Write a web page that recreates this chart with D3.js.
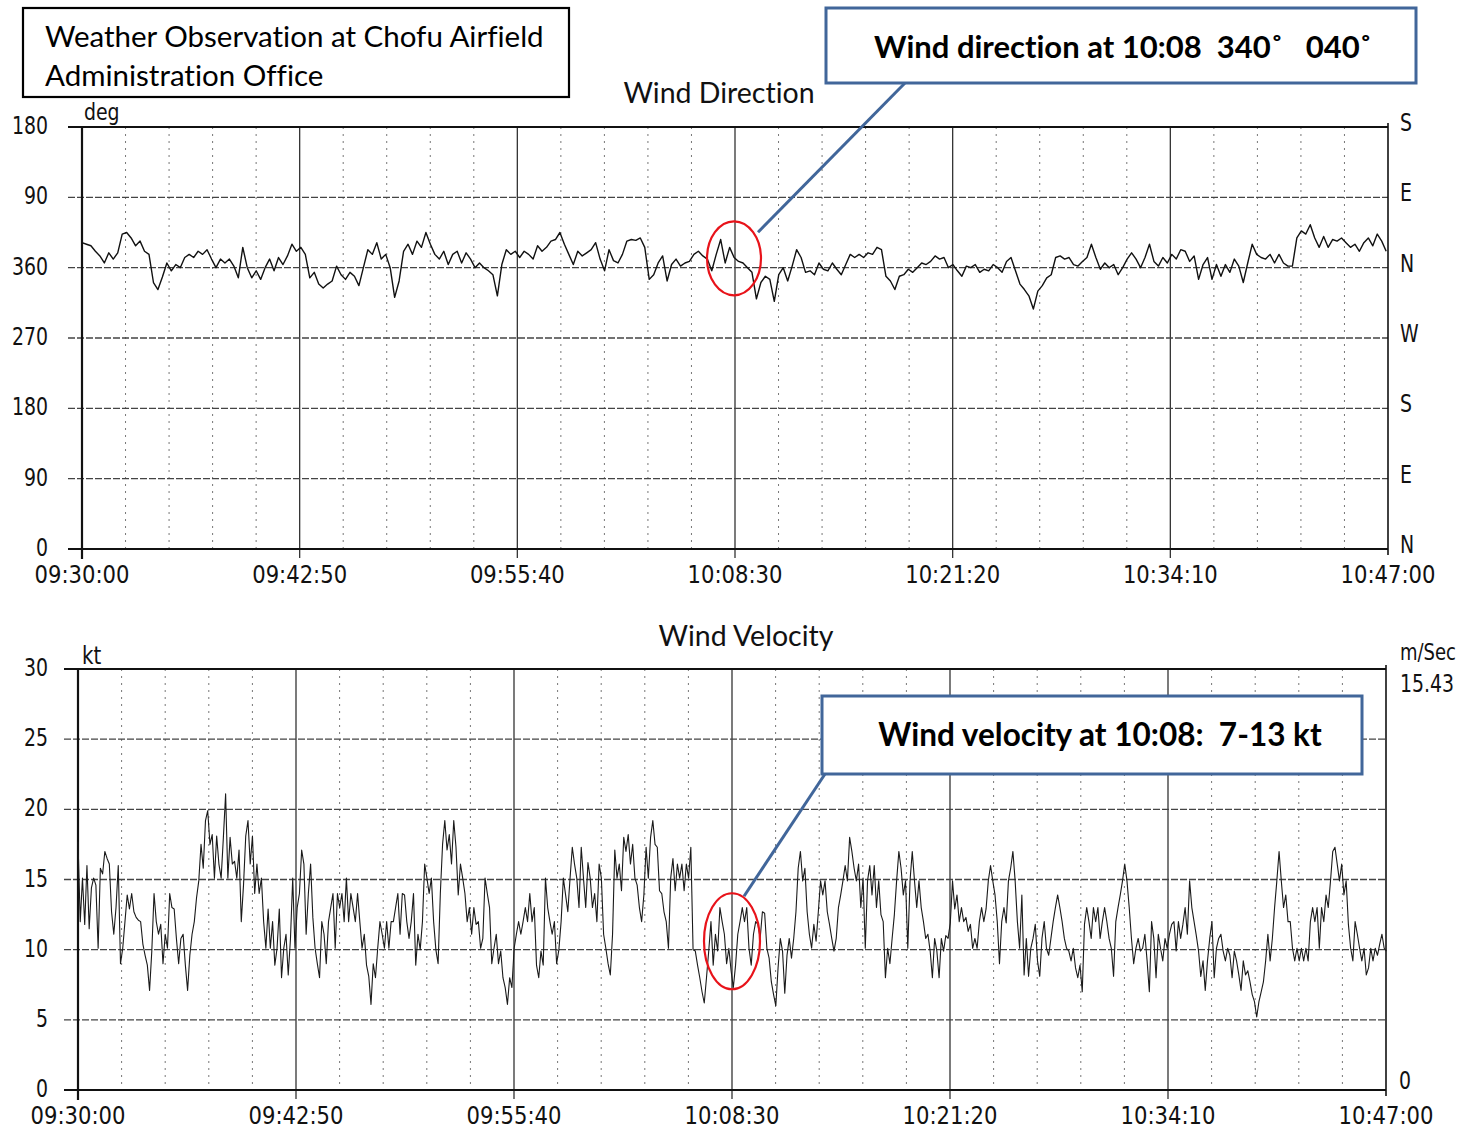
<!DOCTYPE html>
<html><head><meta charset="utf-8">
<script src="https://cdn.jsdelivr.net/npm/d3@7/dist/d3.min.js"></script>
<style>body{margin:0;background:#fff} text{font-variant-ligatures:none}</style>
</head><body>
<svg id="c" width="1470" height="1130"></svg>
<script>
// ---------- data ----------
const timeLabels = ["09:30:00","09:42:50","09:55:40","10:08:30","10:21:20","10:34:10","10:47:00"];
const timeLabelSec = [0,770,1540,2310,3080,3850,4620];
const totalSec = 4620;
const minorGridSec = 154;

const dirTicks = [0,90,180,270,360,450,540];
const dirTickLabels = ["0","90","180","270","360","90","180"];
const dirCompass = ["N","E","S","W","N","E","S"];

const velTicks = [0,5,10,15,20,25,30];
const velTickLabels = ["0","5","10","15","20","25","30"];

// wind direction, unwrapped degrees (360 = N, 390 = 030°, 330 = 330°), one sample every 15.8 s from 09:30:00
const dirSampleSec = 15.8;
const dirValues = [
392,390,388,381,375,366,379,371,379,403,
405,398,388,394,381,377,341,332,348,366,
356,364,360,373,377,373,381,377,383,371,
360,371,366,371,362,347,386,360,347,356,
345,360,371,356,373,364,375,390,381,386,
377,347,354,339,334,339,343,362,351,345,
354,349,337,360,383,377,392,371,377,360,
322,343,381,390,377,394,386,405,390,377,
371,381,364,377,381,366,379,371,360,366,
360,356,351,324,364,383,377,381,373,381,
377,371,388,381,386,394,396,405,390,377,
364,381,375,379,383,392,371,356,383,369,
366,377,394,396,395,398,386,345,351,366,
375,343,364,371,362,366,368,377,381,375,
371,356,377,396,366,386,373,368,366,360,
354,320,
341,349,345,317,351,360,343,362,383,373,
354,356,351,366,358,356,366,358,351,364,
377,373,377,373,379,377,386,383,349,343,
332,349,351,358,354,360,366,364,368,375,
371,373,360,364,356,349,362,360,364,354,
358,356,364,360,354,368,373,356,339,332,
324,307,330,337,347,351,373,375,371,373,
364,362,368,373,390,373,358,366,360,364,
351,360,371,379,371,360,373,390,368,362,
373,366,377,371,383,381,368,375,345,364,
373,345,364,349,364,354,371,362,341,366,
390,377,373,371,377,366,377,366,362,362,
398,407,403,415,398,386,400,386,396,394,
398,392,386,390,381,392,398,388,403,394,
381];

// wind velocity in kt, one sample every 7.9 s from 09:30:00
const velSampleSec = 7.9;
const velValues = [
17.7,12.0,15.1,11.8,16.0,11.5,14.4,15.1,14.6,10.1,
15.8,15.4,17.0,16.5,16.1,12.7,11.1,13.0,16.0,9.0,
10.1,12.0,13.9,12.9,14.0,12.7,12.3,12.1,12.0,10.4,
9.6,8.9,7.1,9.9,14.0,12.0,11.1,11.8,9.0,11.1,
10.1,14.0,13.0,12.9,10.8,9.0,10.8,11.1,8.9,7.1,
9.6,11.1,12.0,13.7,14.9,17.5,15.8,19.2,19.9,17.5,
18.2,15.1,18.1,16.1,15.1,18.0,21.1,15.1,18.0,16.1,
16.3,15.1,17.1,12.0,14.6,18.1,19.2,16.1,18.1,14.0,
16.1,14.0,15.1,12.0,10.1,12.9,10.1,12.0,8.9,10.1,
12.9,8.0,10.1,11.1,8.2,10.8,15.1,10.1,13.0,14.0,
17.1,16.1,11.1,14.0,16.1,12.3,10.1,9.0,8.0,12.0,
11.1,9.0,12.0,13.0,14.0,10.1,14.0,13.0,14.0,12.0,
15.1,12.0,14.0,13.0,12.0,14.0,12.0,10.1,11.1,8.9,
8.1,6.1,9.0,8.0,10.1,12.0,11.1,10.1,12.0,10.1,
12.0,12.0,13.0,14.0,11.1,14.0,13.9,12.0,10.8,12.0,
14.0,8.9,11.1,10.0,12.0,16.1,15.1,14.0,15.1,12.0,
10.0,9.0,14.0,17.5,19.2,17.1,18.2,16.1,19.2,17.3,
13.9,16.1,15.1,14.0,12.0,13.0,11.1,13.0,11.8,12.0,
10.1,10.8,15.1,14.0,13.0,9.0,10.1,11.1,9.0,9.9,
8.0,7.3,6.1,8.0,7.3,10.1,11.1,12.0,11.1,12.0,
13.0,12.0,14.0,12.0,13.0,8.9,8.0,9.9,8.9,15.1,
13.0,12.0,11.1,12.0,9.0,10.0,12.0,15.1,13.9,12.7,
15.1,17.3,16.1,15.1,13.0,17.3,15.1,13.0,16.2,15.1,
13.0,14.0,12.0,16.1,15.1,11.1,10.1,9.0,8.2,11.1,
17.1,15.1,16.1,14.2,18.0,17.0,18.2,16.1,17.5,15.1,
14.6,13.0,12.0,13.9,17.3,15.1,18.0,19.2,17.5,17.3,
14.2,14.0,12.7,12.0,10.1,15.1,16.5,14.2,16.1,15.1,
16.1,14.2,16.1,15.1,17.3,10.0,9.9,8.9,8.0,7.0,
6.2,8.0,9.9,12.0,8.9,11.1,9.9,13.0,12.0,11.1,
9.0,10.1,8.5,7.3,8.9,11.1,12.0,13.0,12.0,13.0,
10.1,8.9,11.1,12.0,11.8,
10.8,12.7,12.6,10.1,9.4,7.7,6.8,6.0,8.7,10.8,
9.9,6.9,9.6,10.8,9.4,10.8,12.7,15.8,17.0,14.9,
15.8,12.7,11.1,10.1,11.8,10.6,12.7,14.9,13.9,14.9,
12.7,11.8,10.8,9.9,10.8,13.0,13.9,14.9,16.0,14.9,
18.0,17.0,15.8,14.9,16.1,13.0,15.1,10.1,14.9,16.0,
13.9,16.0,13.0,14.9,12.5,12.0,8.0,10.1,9.0,10.8,
12.5,14.9,17.0,15.8,13.9,14.9,10.1,14.9,17.0,14.9,
13.0,14.9,13.0,12.0,10.8,11.1,9.9,8.0,10.8,9.9,
8.0,10.8,9.9,11.0,10.8,11.9,14.9,12.9,13.9,12.0,
13.0,12.0,12.3,11.3,11.8,10.1,10.8,10.1,12.0,13.0,
12.0,12.9,14.9,16.0,14.9,13.9,12.0,9.0,12.0,13.0,
11.9,14.9,15.8,17.0,14.9,12.0,10.1,13.9,8.2,10.8,
8.1,10.1,10.8,11.8,9.2,8.1,10.8,12.0,10.1,9.6,
10.8,12.0,13.0,13.9,13.0,12.0,10.8,10.1,9.9,9.2,
10.1,8.7,8.0,8.9,7.0,11.8,13.0,12.0,10.8,13.0,
12.0,13.0,10.8,12.0,13.0,12.0,10.8,10.1,8.1,12.0,
13.0,13.9,14.9,16.1,14.9,13.0,10.8,9.0,10.1,10.8,
9.9,10.1,11.1,9.2,7.0,12.0,10.8,8.0,11.1,10.1,
9.2,10.8,10.1,11.1,11.8,12.0,9.9,12.0,10.8,11.8,
13.0,11.1,14.9,13.0,12.0,11.0,9.9,8.1,9.2,7.1,
9.2,10.8,12.0,8.0,10.1,10.8,11.1,9.9,9.2,10.1,
9.6,8.0,9.9,9.2,8.2,7.1,9.2,8.2,8.5,7.7,
6.8,6.3,5.2,6.3,7.0,7.7,9.2,11.1,9.2,10.8,
13.0,14.9,17.0,14.9,13.0,13.9,12.0,12.0,10.1,9.2,
10.1,9.2,10.1,9.2,10.1,9.2,12.0,13.0,12.0,13.0,
10.1,13.0,12.0,13.9,13.0,14.9,17.0,17.3,16.1,14.9,
16.1,13.9,14.9,11.8,10.1,9.2,12.0,11.1,10.1,9.2,
10.1,8.2,8.7,10.1,9.2,10.1,9.6,10.4,11.1,10.1,
9.9];

const titleLines = ["Weather Observation at Chofu Airfield","Administration Office"];
const dirTitle = "Wind Direction";
const velTitle = "Wind Velocity";
const dirNote = "Wind direction at 10:08  340\u02DA   040\u02DA";
const velNote = "Wind velocity at 10:08:  7-13 kt";
const noteTimeSec = 2310;       // 10:08:30
const dirNoteValue = 372;       // centre of circled range
const velNoteValue = 10.6;
const velMsMax = "15.43";

// ---------- drawing ----------
const svg = d3.select("#c");
const tickFont = "'DejaVu Sans Condensed','DejaVu Sans',sans-serif";
const textFont = "Lato,'Open Sans',sans-serif";
const blue = "#41669a";

const xDir = d3.scaleLinear().domain([0,totalSec]).range([82,1388]);
const yDir = d3.scaleLinear().domain([0,540]).range([549,127]);
const xVel = d3.scaleLinear().domain([0,totalSec]).range([78,1386]);
const yVel = d3.scaleLinear().domain([0,30]).range([1090,669]);

function scanLabel(g, x, y, txt, size, anchor, sy){
  g.append("text").attr("transform",`translate(${x},${y}) scale(1,${sy||1.2})`)
   .attr("text-anchor",anchor||"middle").attr("font-family",tickFont)
   .attr("font-stretch","condensed").attr("font-size",size).attr("fill","#111").text(txt);
}

function panel(x, y, ticks, tickLabels, gridLeft) {
  const g = svg.append("g");
  const [x0,x1] = x.range();
  const [yb,yt] = y.range();
  // vertical grid
  const minor = d3.range(minorGridSec, totalSec, minorGridSec).filter(s => !timeLabelSec.includes(s));
  g.selectAll(".vmin").data(minor).join("line")
    .attr("x1",d=>x(d)).attr("x2",d=>x(d)).attr("y1",yt).attr("y2",yb)
    .attr("stroke","#777").attr("stroke-width",1).attr("stroke-dasharray","2,5");
  g.selectAll(".vmaj").data(timeLabelSec.slice(1,-1)).join("line")
    .attr("x1",d=>x(d)).attr("x2",d=>x(d)).attr("y1",yt).attr("y2",yb+9)
    .attr("stroke","#333").attr("stroke-width",1.3);
  // horizontal grid
  g.selectAll(".h").data(ticks).join("line")
    .attr("x1",gridLeft).attr("x2",x1).attr("y1",d=>y(d)).attr("y2",d=>y(d))
    .attr("stroke",(d,i)=> (i===0||i===ticks.length-1) ? "#111" : "#444")
    .attr("stroke-width",(d,i)=> (i===0||i===ticks.length-1) ? 2 : 1.4)
    .attr("stroke-dasharray",(d,i)=> (i===0||i===ticks.length-1) ? null : "7,2");
  // axes lines
  g.append("line").attr("x1",x0).attr("x2",x0).attr("y1",yt).attr("y2",yb+10).attr("stroke","#111").attr("stroke-width",2.2);
  g.append("line").attr("x1",x1).attr("x2",x1).attr("y1",yt-4).attr("y2",yb+6).attr("stroke","#111").attr("stroke-width",1.6);
  // left tick labels
  ticks.forEach((t,i)=> scanLabel(g, 48, y(t)+7, tickLabels[i], 21, "end", 1.2));
  // time labels
  timeLabelSec.forEach((s,i)=> scanLabel(g, x(s), yb+34, timeLabels[i], 23.5, "middle", 1.08));
  return g;
}

// ---- wind direction panel
const gD = panel(xDir, yDir, dirTicks, dirTickLabels, 68);
dirTicks.forEach((t,i)=> scanLabel(gD, 1400, yDir(t)+4, dirCompass[i], 21, "start", 1.2));
scanLabel(gD, 84, 120, "deg", 21, "start", 1.1);
gD.append("path").datum(dirValues)
  .attr("fill","none").attr("stroke","#111").attr("stroke-width",1.4).attr("stroke-linejoin","round")
  .attr("d", d3.line().x((d,i)=>xDir(i*dirSampleSec)).y(d=>yDir(d)));

// ---- wind velocity panel
const gV = panel(xVel, yVel, velTicks, velTickLabels, 64);
scanLabel(gV, 82, 664, "kt", 22, "start", 1.1);
scanLabel(gV, 1400, 660, "m/Sec", 20, "start", 1.15);
scanLabel(gV, 1400, 692, velMsMax, 21, "start", 1.15);
scanLabel(gV, 1399, 1089, "0", 21, "start", 1.15);
gV.append("path").datum(velValues)
  .attr("fill","none").attr("stroke","#1a1a1a").attr("stroke-width",1.1).attr("stroke-linejoin","round")
  .attr("d", d3.line().x((d,i)=>xVel(i*velSampleSec)).y(d=>yVel(d)));

// ---- titles
svg.append("text").attr("x",719).attr("y",103).attr("text-anchor","middle")
  .attr("font-family",textFont).attr("font-size",28.5).attr("fill","#111").text(dirTitle);
svg.append("text").attr("x",746).attr("y",646).attr("text-anchor","middle")
  .attr("font-family",textFont).attr("font-size",28.5).attr("fill","#111").text(velTitle);

// title box
svg.append("rect").attr("x",23).attr("y",8).attr("width",546).attr("height",89)
  .attr("fill","#fff").attr("stroke","#000").attr("stroke-width",2.2);
titleLines.forEach((t,i)=> svg.append("text").attr("x",45).attr("y",47+i*39)
  .attr("font-family",textFont).attr("font-size",29.5).attr("fill","#000").text(t));

// ---- annotations
function note(box, text, tx, ty, size, from, to, ell) {
  svg.append("line").attr("x1",from[0]).attr("y1",from[1]).attr("x2",to[0]).attr("y2",to[1])
    .attr("stroke",blue).attr("stroke-width",3);
  svg.append("ellipse").attr("cx",ell[0]).attr("cy",ell[1]).attr("rx",ell[2]).attr("ry",ell[3])
    .attr("fill","none").attr("stroke","#e8131a").attr("stroke-width",2.2);
  svg.append("rect").attr("x",box[0]).attr("y",box[1]).attr("width",box[2]).attr("height",box[3])
    .attr("fill","#fff").attr("stroke",blue).attr("stroke-width",3);
  svg.append("text").attr("x",tx).attr("y",ty).attr("text-anchor","middle")
    .style("white-space","pre").attr("xml:space","preserve")
    .attr("font-family",textFont).attr("font-weight","bold").attr("font-size",size).attr("fill","#000").text(text);
}
const dcx = xDir(noteTimeSec)-1, dcy = yDir(dirNoteValue);
note([826,8,590,75], dirNote, 1123, 58, 31, [905,83], [dcx+24, dcy-26], [dcx, dcy, 27, 37]);
const vcx = xVel(noteTimeSec), vcy = yVel(velNoteValue);
note([822,696,540,78], velNote, 1100, 746, 31.5, [825,774], [vcx+12, vcy-45], [vcx, vcy, 28, 48]);
</script>
</body></html>
